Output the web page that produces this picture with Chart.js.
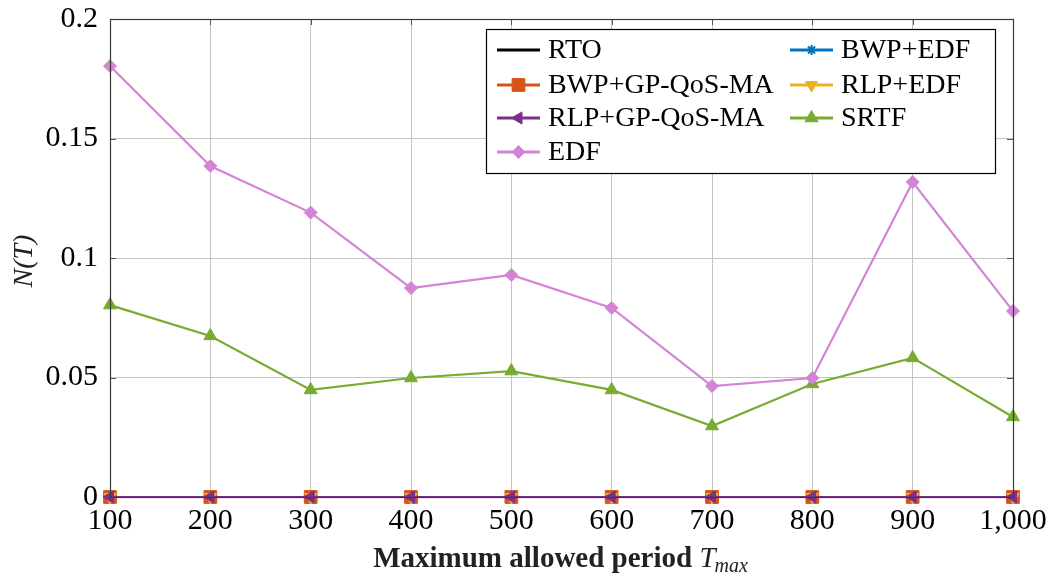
<!DOCTYPE html>
<html><head><meta charset="utf-8">
<script src="https://cdn.jsdelivr.net/npm/chart.js@4"></script>
<style>html,body{margin:0;padding:0;background:#fff}#wrap{width:1054px;height:578px}</style>
</head><body><div id="wrap"><canvas id="c" width="1054" height="578"></canvas></div>
<script>
const periods = [100,200,300,400,500,600,700,800,900,1000];
const rto = [0,0,0,0,0,0,0,0,0,0];
const bwpEdf = [0,0,0,0,0,0,0,0,0,0];
const bwpGp = [0,0,0,0,0,0,0,0,0,0];
const rlpEdf = [0,0,0,0,0,0,0,0,0,0];
const rlpGp = [0,0,0,0,0,0,0,0,0,0];
const srtf = [0.0803,0.0674,0.0448,0.0498,0.0527,0.0448,0.0297,0.0473,0.0582,0.0335];
const edf = [0.1803,0.1385,0.1190,0.0874,0.0929,0.0791,0.0464,0.0498,0.1318,0.0778];
const seriesNames = ['RTO','BWP+EDF','BWP+GP-QoS-MA','RLP+EDF','RLP+GP-QoS-MA','SRTF','EDF'];
const yTickValues = [0,0.05,0.1,0.15,0.2];
const yTickLabels = ['0','0.05','0.1','0.15','0.2'];
const xTickLabels = ['100','200','300','400','500','600','700','800','900','1,000'];
const xTitle = 'Maximum allowed period';
const yTitle = 'N(T)';

const styles = [
  {color:'#000000', pointStyle:false, radius:0, rotation:0},
  {color:'#0072BD', pointStyle:'star', radius:5, rotation:0},
  {color:'#D95319', pointStyle:'rect', radius:9, rotation:0},
  {color:'#EDB120', pointStyle:'triangle', radius:7, rotation:180},
  {color:'#7E2F8E', pointStyle:'triangle', radius:7, rotation:-90},
  {color:'#77AC30', pointStyle:'triangle', radius:7.5, rotation:0},
  {color:'#D484D4', pointStyle:'rectRot', radius:6.5, rotation:0}
];
const values = [rto,bwpEdf,bwpGp,rlpEdf,rlpGp,srtf,edf];

const datasets = seriesNames.map((name,i)=>({
  label:name,
  data: periods.map((p,j)=>({x:p,y:values[i][j]})),
  borderColor: styles[i].color,
  backgroundColor: styles[i].color,
  pointBackgroundColor: styles[i].color,
  pointBorderColor: styles[i].color,
  borderWidth: 2.2,
  pointBorderWidth: 1,
  pointStyle: styles[i].pointStyle,
  pointRadius: styles[i].radius,
  pointRotation: styles[i].rotation,
  tension: 0,
  clip: false,
  order: seriesNames.length - i
}));

function drawMarker(ctx, st, x, y){
  if(!st.pointStyle) return;
  ctx.save();
  ctx.fillStyle = st.color; ctx.strokeStyle = st.color; ctx.lineWidth = st.pointStyle==='star'?2:1;
  Chart.helpers.drawPoint(ctx, {pointStyle:st.pointStyle, rotation:st.rotation, radius:st.radius, borderWidth:ctx.lineWidth}, x, y);
  ctx.restore();
}

const decor = {
  id:'decor',
  afterDraw(chart){
    const ctx = chart.ctx, a = chart.chartArea;
    const xs = chart.scales.x, ys = chart.scales.y;
    ctx.save();
    ctx.strokeStyle = '#555'; ctx.lineWidth = 1;
    periods.forEach(p=>{
      const px = Math.round(xs.getPixelForValue(p))+0.5;
      ctx.beginPath(); ctx.moveTo(px,a.bottom); ctx.lineTo(px,a.bottom-6);
      ctx.moveTo(px,a.top); ctx.lineTo(px,a.top+6); ctx.stroke();
    });
    yTickValues.forEach(v=>{
      const py = Math.round(ys.getPixelForValue(v))+0.5;
      ctx.beginPath(); ctx.moveTo(a.left,py); ctx.lineTo(a.left+6,py);
      ctx.moveTo(a.right,py); ctx.lineTo(a.right-6,py); ctx.stroke();
    });
    ctx.strokeStyle = '#3a3a3a'; ctx.lineWidth = 1.2;
    ctx.strokeRect(Math.round(a.left)+0.5, Math.round(a.top)+0.5, Math.round(a.right-a.left), Math.round(a.bottom-a.top));
    // legend
    const bx=486.5, by=29.5, bw=509, bh=144;
    ctx.fillStyle='#fff'; ctx.fillRect(bx,by,bw,bh);
    ctx.strokeStyle='#000'; ctx.lineWidth=1.2; ctx.strokeRect(bx,by,bw,bh);
    const cols=[497,790], rows=[50,85,118,152];
    ctx.font = '28px "Liberation Serif"';
    ctx.textBaseline='middle'; ctx.textAlign='left';
    seriesNames.forEach((name,i)=>{
      const cx = cols[i%2], cy = rows[Math.floor(i/2)];
      const st = styles[i];
      ctx.strokeStyle = st.color; ctx.lineWidth = 3;
      ctx.beginPath(); ctx.moveTo(cx,cy); ctx.lineTo(cx+43,cy); ctx.stroke();
      drawMarker(ctx, st, cx+21.5, cy);
      ctx.fillStyle='#000';
      ctx.fillText(name, cx+51, cy+1);
    });
    // x title
    ctx.fillStyle='#222';
    ctx.textBaseline='alphabetic';
    ctx.font = 'bold 29px "Liberation Serif"';
    const w1 = ctx.measureText(xTitle+' ').width;
    ctx.font = 'italic 29px "Liberation Serif"';
    const wT = ctx.measureText('T').width;
    ctx.font = 'italic 20px "Liberation Serif"';
    const wS = ctx.measureText('max').width;
    const total = w1+wT+wS;
    let sx = 561 - total/2;
    ctx.font = 'bold 29px "Liberation Serif"';
    ctx.fillText(xTitle+' ', sx, 567);
    ctx.font = 'italic 29px "Liberation Serif"';
    ctx.fillText('T', sx+w1, 567);
    ctx.font = 'italic 20px "Liberation Serif"';
    ctx.fillText('max', sx+w1+wT-1, 572);
    // y title
    ctx.save();
    ctx.translate(32, 261); ctx.rotate(-Math.PI/2);
    ctx.font = 'italic 28px "Liberation Serif"';
    ctx.textAlign='center'; ctx.fillStyle='#222';
    ctx.fillText(yTitle, 0, 0);
    ctx.restore();
    ctx.restore();
  }
};

new Chart(document.getElementById('c'), {
  type:'line',
  data:{datasets},
  plugins:[decor],
  options:{
    responsive:false, animation:false,
    layout:{autoPadding:false, padding:{top:19,right:41,left:0,bottom:0}},
    plugins:{legend:{display:false}, tooltip:{enabled:false}},
    scales:{
      x:{type:'linear', min:100, max:1000,
        afterFit(s){ s.height = 81; s.paddingLeft = 0; s.paddingRight = 0; },
        afterBuildTicks(s){ s.ticks = periods.map(v=>({value:v})); },
        ticks:{color:'#000', font:{family:'Liberation Serif', size:30}, padding:6, maxRotation:0,
          callback:(v)=>{ const k = periods.indexOf(v); return k>=0 ? xTickLabels[k] : ''; }},
        grid:{color:'#c4c4c4', lineWidth:1, drawTicks:false},
        border:{display:false}
      },
      y:{min:0, max:0.2,
        afterFit(s){ s.width = 110; s.paddingTop = 0; s.paddingBottom = 0; },
        afterBuildTicks(s){ s.ticks = yTickValues.map(v=>({value:v})); },
        ticks:{color:'#000', font:{family:'Liberation Serif', size:30}, padding:12,
          callback:(v)=>{ const k = yTickValues.findIndex(t=>Math.abs(t-v)<1e-9); return k>=0 ? yTickLabels[k] : ''; }},
        grid:{color:'#c4c4c4', lineWidth:1, drawTicks:false},
        border:{display:false}
      }
    }
  }
});
</script>
</body></html>
